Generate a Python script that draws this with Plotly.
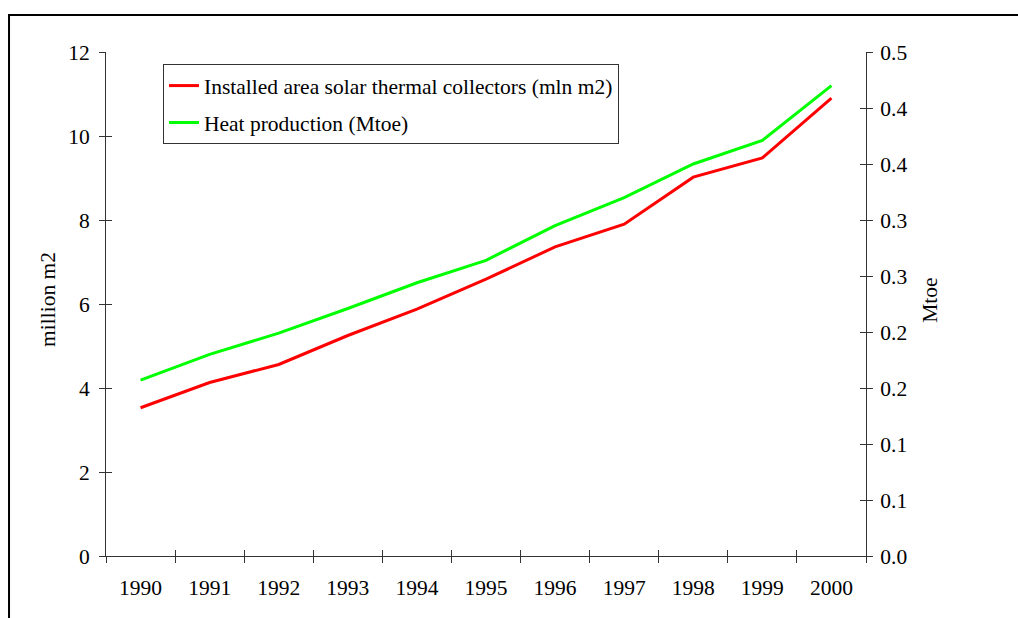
import plotly.graph_objects as go

years = ["1990", "1991", "1992", "1993", "1994", "1995",
         "1996", "1997", "1998", "1999", "2000"]
installed_area = [3.53, 4.13, 4.56, 5.25, 5.88, 6.59, 7.36, 7.90, 9.02, 9.48, 10.90]  # million m2
heat_production = [0.157, 0.180, 0.199, 0.221, 0.244, 0.264, 0.295, 0.320, 0.350, 0.371, 0.420]  # Mtoe

left_ticks = [0, 2, 4, 6, 8, 10, 12]
right_tickvals = [0.0, 0.05, 0.10, 0.15, 0.20, 0.25, 0.30, 0.35, 0.40, 0.45]
right_ticktext = ["0.0", "0.1", "0.1", "0.2", "0.2", "0.3", "0.3", "0.4", "0.4", "0.5"]

FONT = "Liberation Serif, Times New Roman, serif"
FS = 21.5
AXIS = "#333333"

fig = go.Figure()
fig.add_trace(go.Scatter(
    x=years, y=installed_area, mode="lines",
    name="Installed area solar thermal collectors (mln m2)",
    line=dict(color="#FF0000", width=3), legendgroup="a",
    xaxis="x", yaxis="y"))
fig.add_trace(go.Scatter(
    x=years, y=heat_production, mode="lines",
    name="Heat production (Mtoe)",
    line=dict(color="#00FF00", width=3), legendgroup="b",
    xaxis="x2", yaxis="y2"))

common_x = dict(type="category", categoryarray=years, range=[-0.5, 10.5],
                tickson="boundaries", ticklen=6, tickcolor=AXIS, tickwidth=1,
                showgrid=False, zeroline=False)

fig.update_layout(
    width=1018, height=618,
    margin=dict(l=106, r=152, t=52, b=62),
    paper_bgcolor="white", plot_bgcolor="white",
    font=dict(family=FONT, size=FS, color="black"),
    showlegend=True,
    legend=dict(x=0.075, y=0.976, xanchor="left", yanchor="top",
                bordercolor=AXIS, borderwidth=1, bgcolor="white",
                font=dict(family=FONT, size=FS, color="black"),
                traceorder="grouped", tracegroupgap=6),
    xaxis=dict(**common_x, ticks="outside", showline=True, linecolor=AXIS,
               linewidth=1, anchor="y", tickfont=dict(size=FS),
               ticklabelstandoff=12),
    xaxis2=dict(**common_x, ticks="inside", showline=False, overlaying="x",
                anchor="y", showticklabels=False, side="bottom"),
    yaxis=dict(range=[0, 12], tickvals=left_ticks, ticks="outside", ticklen=6,
               tickcolor=AXIS, showline=True, linecolor=AXIS, linewidth=1,
               showgrid=False, zeroline=False, anchor="x", tickfont=dict(size=FS),
               ticklabelstandoff=5),
    yaxis2=dict(range=[0, 0.45], tickvals=right_tickvals, ticktext=right_ticktext,
                ticks="outside", ticklen=6, tickcolor=AXIS, showline=True,
                linecolor=AXIS, linewidth=1, showgrid=False, zeroline=False,
                overlaying="y", side="right", anchor="x", tickfont=dict(size=FS),
                ticklabelstandoff=3),
    yaxis3=dict(range=[0, 12], tickvals=left_ticks, ticks="inside", ticklen=6,
                tickcolor=AXIS, showticklabels=False, showline=False,
                showgrid=False, zeroline=False, overlaying="y", side="left", anchor="x"),
    yaxis4=dict(range=[0, 0.45], tickvals=right_tickvals, ticks="inside", ticklen=6,
                tickcolor=AXIS, showticklabels=False, showline=False,
                showgrid=False, zeroline=False, overlaying="y", side="right", anchor="x"),
)

# invisible carriers so the inside-tick overlay axes are rendered
fig.add_trace(go.Scatter(x=years, y=installed_area, mode="lines", opacity=0,
                         showlegend=False, hoverinfo="skip", xaxis="x", yaxis="y3"))
fig.add_trace(go.Scatter(x=years, y=heat_production, mode="lines", opacity=0,
                         showlegend=False, hoverinfo="skip", xaxis="x", yaxis="y4"))

# axis titles
fig.add_annotation(text="million m2", xref="paper", yref="paper",
                   x=-0.0763, y=0.508, xanchor="center", yanchor="middle",
                   textangle=-90, showarrow=False,
                   font=dict(family=FONT, size=FS, color="black"))
fig.add_annotation(text="Mtoe", xref="paper", yref="paper",
                   x=1.084, y=0.508, xanchor="center", yanchor="middle",
                   textangle=-90, showarrow=False,
                   font=dict(family=FONT, size=FS, color="black"))

# outer frame
fig.add_shape(type="rect", xref="paper", yref="paper",
              x0=-0.1276, x1=1.4, y0=-0.4, y1=1.0734,
              line=dict(color="black", width=2), fillcolor="rgba(0,0,0,0)",
              layer="below")

fig.write_html("out.html")
